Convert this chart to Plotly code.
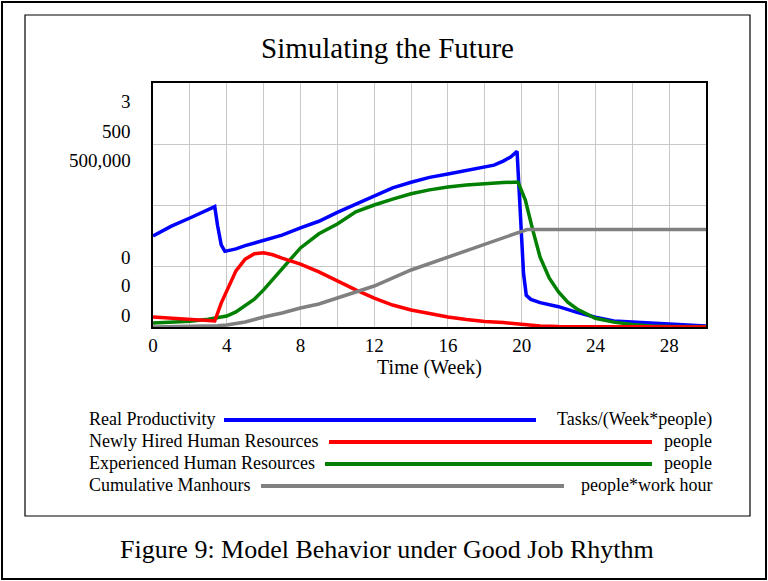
import plotly.graph_objects as go

# ---------------- data ----------------
time_prod = [0, 1, 2, 3, 3.35, 3.5, 3.7, 3.9, 4.5, 5, 6, 7, 8, 9, 10, 11, 12, 13, 14, 15,
             16, 17, 18, 18.5, 19, 19.4, 19.75, 19.9, 20.0, 20.1, 20.25, 20.5, 21, 22, 23,
             24, 25, 26, 27, 28, 29, 30]
real_productivity = [1.12, 1.24, 1.34, 1.44, 1.48, 1.25, 1.01, 0.93, 0.96, 1.00, 1.06, 1.13,
                     1.22, 1.30, 1.41, 1.51, 1.61, 1.71, 1.78, 1.84, 1.88, 1.92, 1.96, 1.99,
                     2.04, 2.09, 2.16, 1.48, 1.01, 0.66, 0.39, 0.34, 0.30, 0.25, 0.18, 0.12,
                     0.074, 0.06, 0.05, 0.03, 0.025, 0.012]

time_new = [0, 1, 2, 3, 3.35, 3.7, 4, 4.5, 5, 5.5, 6, 6.5, 7, 8, 9, 10, 11, 12, 13, 14, 15,
            16, 17, 18, 19, 20, 21, 22, 24, 26, 28, 30]
newly_hired = [20.5, 18.4, 16.4, 13.3, 12.3, 49, 74, 115, 139, 150, 152, 148, 141, 129, 113,
               94, 76, 59, 45, 35, 27, 20.5, 15.4, 11.3, 9.2, 6.1, 2.0, 1.0, 0.5, 0.3, 0.2, 0.1]

time_exp = [0, 1, 2, 3, 3.35, 4, 4.5, 5, 5.5, 6, 6.5, 7, 8, 9, 10, 11, 12, 13, 14, 15, 16,
            17, 18, 19, 19.8, 20.2, 20.6, 21, 21.5, 22, 22.5, 23, 24, 25, 26, 27, 28, 30]
experienced = [8, 10, 12, 16, 18, 22.5, 31, 43, 57, 76, 98, 119, 162, 191, 211, 236, 250, 262,
               273, 281, 287, 291, 294, 296, 297, 260, 199, 143, 100, 72, 51, 37, 18, 10, 5,
               2, 1, 0.5]

time_cum = [0, 1, 2, 3, 3.5, 4, 5, 6, 7, 8, 9, 10, 12, 14, 16, 18, 19, 20, 20.3, 21, 25, 30]
cumulative_manhours = [0, 200, 400, 1400, 2500, 4100, 10200, 20500, 28700, 38900, 47100,
                       59400, 84000, 116800, 143400, 170000, 182000, 196700, 199800, 199800,
                       199800, 199800]

x_tick_values = [0, 2, 4, 6, 8, 10, 12, 14, 16, 18, 20, 22, 24, 26, 28, 30]
x_tick_labels = ["0", "", "4", "", "8", "", "12", "", "16", "", "20", "", "24", "", "28", ""]
y_top_labels = ["3", "500", "500,000"]
y_bottom_labels = ["0", "0", "0"]

legend_names = ["Real Productivity", "Newly Hired Human Resources",
                "Experienced Human Resources", "Cumulative Manhours"]
legend_units = ["Tasks/(Week*people)", "people", "people", "people*work hour"]
colors = ["#0000ff", "#ff0000", "#008000", "#808080"]

# ---------------- layout helpers (pixel -> paper) ----------------
W, H = 768, 581
PL, PR, PT, PB = 153, 706, 83, 327


def px(x):
    return (x - PL) / (PR - PL)


def py(y):
    return (PB - y) / (PB - PT)


FONT = "Liberation Serif"
LW = 3.5

fig = go.Figure()
fig.add_trace(go.Scatter(x=time_cum, y=cumulative_manhours, mode="lines", yaxis="y3",
                         line=dict(color=colors[3], width=LW), showlegend=False))
fig.add_trace(go.Scatter(x=time_exp, y=experienced, mode="lines", yaxis="y2",
                         line=dict(color=colors[2], width=LW), showlegend=False))
fig.add_trace(go.Scatter(x=time_new, y=newly_hired, mode="lines", yaxis="y2",
                         line=dict(color=colors[1], width=LW), showlegend=False))
fig.add_trace(go.Scatter(x=time_prod, y=real_productivity, mode="lines", yaxis="y",
                         line=dict(color=colors[0], width=LW), showlegend=False))

shapes = []
annotations = []

# outer frame and inner chart box
shapes.append(dict(type="rect", xref="paper", yref="paper", x0=px(2), x1=px(766),
                   y0=py(579), y1=py(2), line=dict(color="black", width=2)))
shapes.append(dict(type="rect", xref="paper", yref="paper", x0=px(25), x1=px(750),
                   y0=py(516), y1=py(15), line=dict(color="black", width=1.2)))

# title and caption
annotations.append(dict(text="Simulating the Future", xref="paper", yref="paper",
                        x=px(387), y=py(48), xanchor="center", yanchor="middle",
                        showarrow=False, font=dict(family=FONT, size=29, color="black")))
annotations.append(dict(text="Figure 9: Model Behavior under Good Job Rhythm", xref="paper",
                        yref="paper", x=px(387), y=py(549), xanchor="center",
                        yanchor="middle", showarrow=False,
                        font=dict(family=FONT, size=26, color="black")))

# stacked y scale labels
for lab, yy in zip(y_top_labels, [101, 131, 160]):
    annotations.append(dict(text=lab, xref="paper", yref="paper", x=px(133), y=py(yy),
                            xanchor="right", yanchor="middle", showarrow=False,
                            font=dict(family=FONT, size=19, color="black")))
for lab, yy in zip(y_bottom_labels, [257, 285, 315]):
    annotations.append(dict(text=lab, xref="paper", yref="paper", x=px(133), y=py(yy),
                            xanchor="right", yanchor="middle", showarrow=False,
                            font=dict(family=FONT, size=19, color="black")))

# legend rows
row_y = [419, 441, 463, 485]
line_x = [(224, 536), (329, 652), (325, 652), (261, 564)]
for name, unit, col, yy, (lx0, lx1) in zip(legend_names, legend_units, colors, row_y, line_x):
    annotations.append(dict(text=name, xref="paper", yref="paper", x=px(87), y=py(yy),
                            xanchor="left", yanchor="middle", showarrow=False,
                            font=dict(family=FONT, size=18, color="black")))
    annotations.append(dict(text=unit, xref="paper", yref="paper", x=px(714), y=py(yy),
                            xanchor="right", yanchor="middle", showarrow=False,
                            font=dict(family=FONT, size=18, color="black")))
    shapes.append(dict(type="line", xref="paper", yref="paper", x0=px(lx0), x1=px(lx1),
                       y0=py(yy + 1), y1=py(yy + 1), line=dict(color=col, width=4)))

fig.update_layout(
    width=W, height=H,
    margin=dict(l=PL, r=W - PR, t=PT, b=H - PB, pad=0),
    paper_bgcolor="white", plot_bgcolor="white",
    showlegend=False,
    font=dict(family=FONT, size=19, color="black"),
    xaxis=dict(range=[0, 30], tickvals=x_tick_values, ticktext=x_tick_labels,
               showgrid=True, gridcolor="#c8c8c8", gridwidth=1, zeroline=False,
               showline=True, mirror=True, linecolor="black", linewidth=2,
               ticks="", tickfont=dict(family=FONT, size=19),
               title=dict(text="Time (Week)", font=dict(family=FONT, size=20), standoff=4)),
    yaxis=dict(range=[0, 3], dtick=0.75, showgrid=True, gridcolor="#c8c8c8", gridwidth=1,
               zeroline=False, showticklabels=False, ticks="",
               showline=True, mirror=True, linecolor="black", linewidth=2),
    yaxis2=dict(range=[0, 500], overlaying="y", visible=False),
    yaxis3=dict(range=[0, 500000], overlaying="y", visible=False),
    shapes=shapes,
    annotations=annotations,
)

fig.write_html("out.html", config={"displayModeBar": False},
               post_script="document.body.style.margin='0px';document.body.style.padding='0px';")
